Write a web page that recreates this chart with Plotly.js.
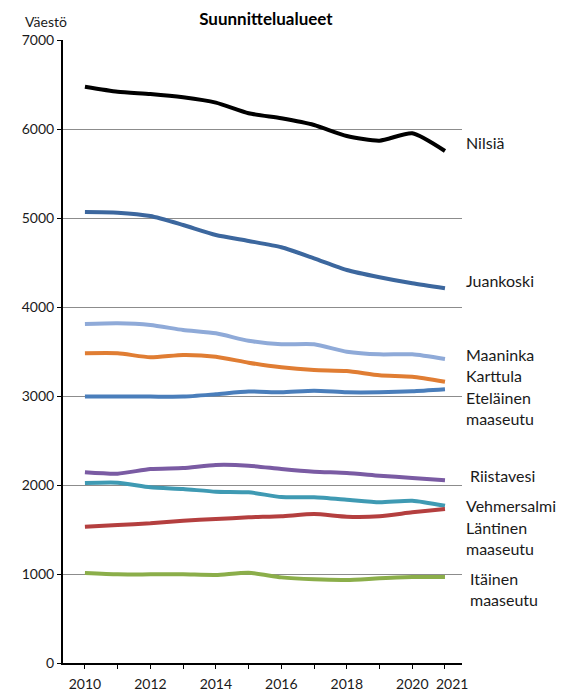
<!DOCTYPE html>
<html>
<head>
<meta charset="utf-8">
<script src="https://cdn.plot.ly/plotly-3.0.1.min.js"></script>
<style>html,body{margin:0;padding:0;background:#fff;}#chart{width:561px;height:691px;}</style>
</head>
<body>
<div id="chart"></div>
<script>
const years = [2010,2011,2012,2013,2014,2015,2016,2017,2018,2019,2020,2021];
const tickLabels = ['2010','','2012','','2014','','2016','','2018','','2020','\u00a0\u00a0\u00a0\u00a02021'];
const nilsia      = [6475,6419,6393,6356,6296,6177,6120,6045,5921,5869,5952,5753];
const juankoski   = [5067,5060,5022,4921,4809,4742,4671,4547,4416,4334,4266,4210];
const maaninka    = [3809,3817,3798,3742,3704,3621,3581,3581,3498,3468,3468,3416];
const karttula    = [3480,3480,3435,3461,3442,3374,3322,3292,3281,3233,3217,3161];
const etelainen   = [2993,2993,2993,2993,3020,3050,3042,3060,3042,3042,3052,3075];
const riistavesi  = [2143,2127,2180,2191,2225,2217,2180,2150,2135,2105,2079,2053];
const vehmersalmi = [2022,2026,1974,1955,1925,1918,1865,1862,1835,1806,1824,1767];
const lantinen    = [1531,1551,1570,1599,1618,1637,1649,1674,1644,1649,1693,1730];
const itainen     = [1011,996,996,996,989,1015,962,940,933,951,965,965];

const seriesNames = ['Nilsiä','Juankoski','Maaninka','Karttula','Eteläinen maaseutu','Riistavesi','Vehmersalmi','Läntinen maaseutu','Itäinen maaseutu'];
const seriesValues = [nilsia,juankoski,maaninka,karttula,etelainen,riistavesi,vehmersalmi,lantinen,itainen];
const colors = ['#000000','#3c679e','#8faad8','#e07d33','#4a7ebb','#7a5ba3','#3f9ab3','#b43f3f','#8bae4a'];

const labelTexts = ['Nilsiä','Juankoski','Maaninka','Karttula','Eteläinen<br>maaseutu','Riistavesi','Vehmersalmi','Läntinen<br>maaseutu','Itäinen<br>maaseutu'];
const labelY =      [5843, 4303, 3461, 3225, 2860, 2112, 1775, 1399, 826];
const labelX =      [1.006,1.006,1.006,1.006,1.006,1.014,1.006,1.006,1.014];

const FONT = 'Lato, "Open Sans", "Liberation Sans", sans-serif';

const traces = seriesValues.map((v,i)=>({
  x: years, y: v, type:'scatter', mode:'lines', name: seriesNames[i],
  line:{color: colors[i], width:4, shape:'spline', smoothing:0.6},
  hoverinfo:'skip'
}));

const annotations = labelTexts.map((t,i)=>({
  text: t, xref:'paper', yref:'y', x: labelX[i], y: labelY[i],
  xanchor:'left', yanchor:'middle', align:'left', showarrow:false,
  font:{family: FONT, size:16, color:'#1a1a1a'}
}));
annotations.push({
  text:'Väestö', xref:'paper', yref:'paper', x:-0.043, y:1.03,
  xanchor:'center', yanchor:'middle', showarrow:false,
  font:{family: FONT, size:14, color:'#1a1a1a'}
});

const layout = {
  width:561, height:691,
  margin:{l:63, r:99, t:40, b:28},
  paper_bgcolor:'#ffffff', plot_bgcolor:'#ffffff',
  showlegend:false,
  title:{text:'<b>Suunnittelualueet</b>', x:0.474, xanchor:'center', y:0.972, yanchor:'middle',
    font:{family: FONT, size:17, color:'#000'}},
  xaxis:{
    range:[2009.33, 2021.52], tickmode:'array', tickvals: years, ticktext: tickLabels,
    showgrid:false, zeroline:false, showline:true, linecolor:'#000', linewidth:2,
    ticks:'outside', ticklen:4, tickcolor:'#000', tickwidth:1, tickangle:0,
    tickfont:{family: FONT, size:14, color:'#1a1a1a'}, ticklabelstandoff:3,
    fixedrange:true, automargin:false
  },
  yaxis:{
    range:[0,7000], tickvals:[0,1000,2000,3000,4000,5000,6000,7000],
    showgrid:true, gridcolor:'#8c8c8c', gridwidth:1, zeroline:false,
    showline:true, linecolor:'#000', linewidth:2,
    ticks:'outside', ticklen:4, tickcolor:'#000', tickwidth:1,
    tickfont:{family: FONT, size:14, color:'#1a1a1a'},
    fixedrange:true, automargin:false
  },
  annotations: annotations
};

Plotly.newPlot('chart', traces, layout, {staticPlot:true, displayModeBar:false});
</script>
</body>
</html>
